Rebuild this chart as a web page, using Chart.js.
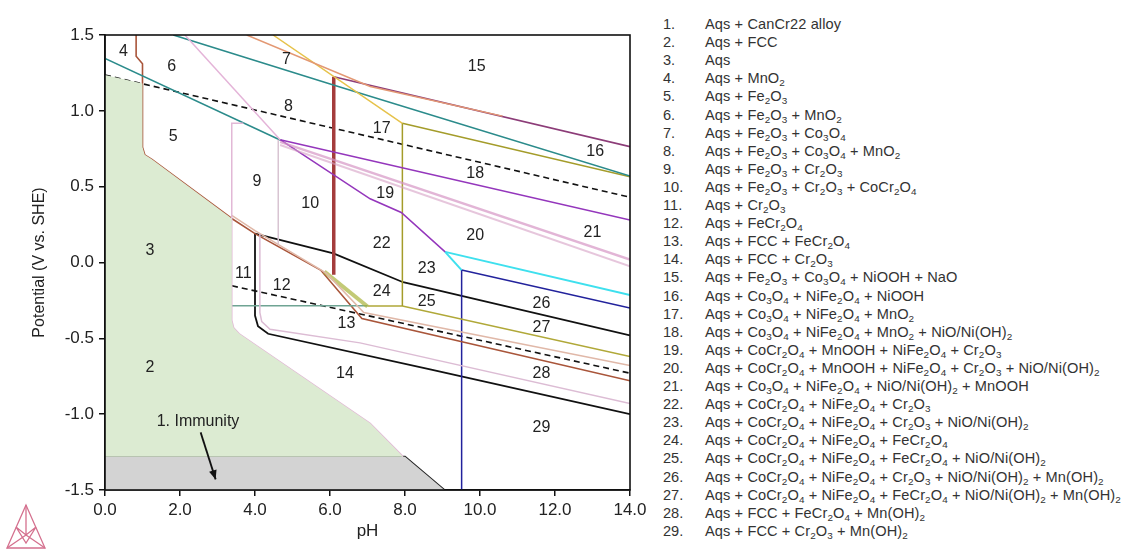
<!DOCTYPE html>
<html>
<head>
<meta charset="utf-8">
<script src="https://cdn.jsdelivr.net/npm/chart.js@4.4.1/dist/chart.umd.min.js"></script>
<style>
  body { margin: 0; background: #fff; width: 1128px; height: 549px; overflow: hidden; position: relative; font-family: "Liberation Sans", Arial, sans-serif; }
  #chart { position: absolute; left: 0; top: 0; }
  .row { position: absolute; height: 18px; line-height: 18px; font-size: 14.6px; color: #333; white-space: nowrap; }
  .row .n { position: absolute; left: 0; }
  .row .t { position: absolute; left: 42px; letter-spacing: 0.1px; }
  sub { font-size: 0.68em; line-height: 0; vertical-align: -0.3em; }
  #logo { position: absolute; left: 4px; top: 503px; }
</style>
</head>
<body>
<canvas id="chart" width="660" height="549"></canvas>
<div id="legend"></div>
<svg id="logo" width="46" height="46" viewBox="0 0 46 46">
  <g fill="none" stroke="#d4708e" stroke-width="1.3">
    <path d="M22 2 L3 45 L41 45 Z"/>
    <path d="M22 2 L22 32 M3 45 L22 32 L41 45 M12 24 L22 32 L32 24 M12 24 L22 40 L32 24"/>
  </g>
</svg>
<script>
// axis ticks
const xTicks = [0, 2, 4, 6, 8, 10, 12, 14];
const yTicks = [-1.5, -1.0, -0.5, 0.0, 0.5, 1.0, 1.5];

// shaded areas, [pH, E] corners
const aqsArea = [[0, 1.236], [1.0, 1.18], [1.0, 0.76], [1.06, 0.71], [1.25, 0.68], [3.38, 0.29], [3.38, -0.38], [3.43, -0.43], [3.58, -0.47], [7.07, -1.06], [7.95, -1.28], [0, -1.28]];
const immunityArea = [[0, -1.28], [8.0, -1.28], [9.05, -1.5], [0, -1.5]];

// phase boundaries
const immunityEdge = [[0, -1.28], [8.0, -1.28], [9.05, -1.5]];
const brownLine = [[0.83, 1.5], [0.83, 1.36], [1.0, 1.31], [1.0, 0.76], [1.06, 0.71], [1.25, 0.68], [3.38, 0.29], [4.0, 0.19], [5.75, -0.05], [6.85, -0.37], [14, -0.78]];
const paleBrownLine = [[3.38, 0.31], [4.0, 0.21], [5.9, -0.07], [6.9, -0.33], [14, -0.68]];
const oliveBand = [[5.85, -0.06], [7.0, -0.29]];
const tealUpper = [[1.82, 1.5], [6.09, 1.17], [14, 0.57]];
const tealLower = [[0, 1.346], [4.67, 0.808]];
const tealFlat = [[0, -0.285], [7.0, -0.285]];
const waterUpper = [[0, 1.236], [14, 0.43]];
const waterLower = [[0, 0.03], [14, -0.73]];
const salmonLine = [[3.78, 1.5], [7.07, 1.16], [10.6, 0.965]];
const yellowLine = [[4.48, 1.5], [7.93, 0.918]];
const plumLine = [[6.1, 1.225], [14, 0.764]];
const redWall = [[6.1, 1.225], [6.1, -0.08]];
const oliveBox = [[7.93, 0.918], [7.93, -0.287]];
const oliveTop = [[7.93, 0.918], [14, 0.566]];
const oliveBottom = [[7.0, -0.287], [7.93, -0.287], [14, -0.62]];
const purpleFlat = [[4.67, 0.81], [14, 0.28]];
const purpleSteep = [[4.67, 0.81], [7.07, 0.42], [7.9, 0.33], [9.07, 0.07]];
const pinkBandA = [[4.67, 0.795], [14, 0.02]];
const pinkBandB = [[4.67, 0.775], [14, -0.025]];
const pinkDiag = [[2.13, 1.5], [4.67, 0.81]];
const pinkWall = [[3.69, 0.918], [3.38, 0.918], [3.38, -0.38], [3.43, -0.43], [3.58, -0.47], [7.07, -1.06], [7.95, -1.28]];
const greyWall = [[4.62, 0.81], [4.62, 0.12]];
const paleCurve = [[4.13, 0.19], [4.13, -0.33], [4.18, -0.39], [4.4, -0.44], [6.8, -0.53], [14, -0.93]];
const blackUpper = [[4.0, 0.19], [6.09, 0.06], [7.95, -0.13], [14, -0.48]];
const blackLower = [[4.0, 0.19], [4.0, -0.35], [4.08, -0.42], [4.35, -0.47], [8.67, -0.705], [14, -1.0]];
const cyanShort = [[9.07, 0.07], [9.51, -0.05]];
const cyanLong = [[9.07, 0.07], [14, -0.214]];
const navyTop = [[9.51, -0.05], [14, -0.30]];
const navyWall = [[9.51, -0.05], [9.51, -1.5]];

// region numbers and where they sit
const regionNames = ['2', '3', '4', '5', '6', '7', '8', '9', '10', '11', '12', '13', '14', '15', '16', '17', '18', '19', '20', '21', '22', '23', '24', '25', '26', '27', '28', '29'];
const regionPH = [1.2, 1.2, 0.49, 1.82, 1.78, 4.84, 4.89, 4.05, 5.47, 3.69, 4.71, 6.44, 6.4, 9.91, 13.07, 7.38, 9.87, 7.47, 9.87, 13.0, 7.38, 8.58, 7.38, 8.58, 11.64, 11.64, 11.64, 11.64];
const regionE = [-0.69, 0.08, 1.39, 0.83, 1.29, 1.335, 1.027, 0.533, 0.39, -0.07, -0.155, -0.40, -0.73, 1.29, 0.73, 0.885, 0.588, 0.456, 0.18, 0.20, 0.127, -0.04, -0.19, -0.26, -0.27, -0.43, -0.73, -1.09];

// legend list (_n marks a subscript)
const phaseList = [
  'Aqs + CanCr22 alloy',
  'Aqs + FCC',
  'Aqs',
  'Aqs + MnO_2',
  'Aqs + Fe_2O_3',
  'Aqs + Fe_2O_3 + MnO_2',
  'Aqs + Fe_2O_3 + Co_3O_4',
  'Aqs + Fe_2O_3 + Co_3O_4 + MnO_2',
  'Aqs + Fe_2O_3 + Cr_2O_3',
  'Aqs + Fe_2O_3 + Cr_2O_3 + CoCr_2O_4',
  'Aqs + Cr_2O_3',
  'Aqs + FeCr_2O_4',
  'Aqs + FCC + FeCr_2O_4',
  'Aqs + FCC + Cr_2O_3',
  'Aqs + Fe_2O_3 + Co_3O_4 + NiOOH + NaO',
  'Aqs + Co_3O_4 + NiFe_2O_4 + NiOOH',
  'Aqs + Co_3O_4 + NiFe_2O_4 + MnO_2',
  'Aqs + Co_3O_4 + NiFe_2O_4 + MnO_2 + NiO/Ni(OH)_2',
  'Aqs + CoCr_2O_4 + MnOOH + NiFe_2O_4 + Cr_2O_3',
  'Aqs + CoCr_2O_4 + MnOOH + NiFe_2O_4 + Cr_2O_3 + NiO/Ni(OH)_2',
  'Aqs + Co_3O_4 + NiFe_2O_4 + NiO/Ni(OH)_2 + MnOOH',
  'Aqs + CoCr_2O_4 + NiFe_2O_4 + Cr_2O_3',
  'Aqs + CoCr_2O_4 + NiFe_2O_4 + Cr_2O_3 + NiO/Ni(OH)_2',
  'Aqs + CoCr_2O_4 + NiFe_2O_4 + FeCr_2O_4',
  'Aqs + CoCr_2O_4 + NiFe_2O_4 + FeCr_2O_4 + NiO/Ni(OH)_2',
  'Aqs + CoCr_2O_4 + NiFe_2O_4 + Cr_2O_3 + NiO/Ni(OH)_2 + Mn(OH)_2',
  'Aqs + CoCr_2O_4 + NiFe_2O_4 + FeCr_2O_4 + NiO/Ni(OH)_2 + Mn(OH)_2',
  'Aqs + FCC + FeCr_2O_4 + Mn(OH)_2',
  'Aqs + FCC + Cr_2O_3 + Mn(OH)_2'
];

// build the legend list
const legendBox = document.getElementById('legend');
phaseList.forEach((txt, i) => {
  const row = document.createElement('div');
  row.className = 'row';
  row.style.left = '663px';
  row.style.top = (15 + i * 18.1) + 'px';
  row.innerHTML = '<span class="n">' + (i + 1) + '.</span><span class="t">' + txt.replace(/_(\d)/g, '<sub>$1</sub>') + '</span>';
  legendBox.appendChild(row);
});

function toXY(pts) {
  return pts.map(p => ({ x: p[0], y: p[1] }));
}

function area(pts, color) {
  return { data: toXY(pts), showLine: true, borderWidth: 0, pointRadius: 0, backgroundColor: color, fill: 'shape', tension: 0 };
}

function line(pts, color, width, dash) {
  return { data: toXY(pts), showLine: true, borderColor: color, borderWidth: width || 1.5, borderDash: dash || [], pointRadius: 0, fill: false, tension: 0 };
}

const datasets = [
  area(aqsArea, '#dcebd2'),
  area(immunityArea, '#d3d3d3'),
  line(pinkBandA, 'rgba(214,150,196,0.7)', 2.5),
  line(pinkBandB, 'rgba(214,160,196,0.6)', 2),
  line(pinkDiag, '#e4b4d8', 1.5),
  line(pinkWall, '#e2b8d6', 1.5),
  line(greyWall, '#d8c4d2', 1.5),
  line(paleCurve, '#dcbcd4', 1.5),
  line(paleBrownLine, '#e0b8a8', 1.5),
  line(oliveBand, 'rgba(170,180,60,0.7)', 4),
  line(tealFlat, '#6fa493', 1.5),
  line(salmonLine, '#e39873', 1.5),
  line(yellowLine, '#e6c24a', 1.5),
  line(tealUpper, '#2b8b8b', 1.6),
  line(tealLower, '#2b8b8b', 1.6),
  line(plumLine, '#8c3c78', 1.6),
  line(purpleFlat, '#9436bc', 1.5),
  line(purpleSteep, '#9436bc', 1.5),
  line(oliveBox, '#a49c2a', 1.5),
  line(oliveTop, '#a49c2a', 1.5),
  line(oliveBottom, '#b0a838', 1.5),
  line(brownLine, '#a9553a', 1.6),
  line(redWall, '#a43c3c', 3.5),
  line(cyanLong, '#3ee0ee', 2),
  line(cyanShort, '#3ee0ee', 2),
  line(navyTop, '#22229c', 1.5),
  line(navyWall, '#22229c', 1.5),
  line(blackUpper, '#111', 1.8),
  line(blackLower, '#111', 1.8),
  line(waterUpper, '#111', 1.6, [6, 4]),
  line(waterLower, '#111', 1.6, [6, 4]),
  line(immunityEdge, '#222', 1.8)
];

// frame around the plot area
const framePlugin = {
  id: 'frame',
  afterDatasetsDraw(chart) {
    const a = chart.chartArea;
    const ctx = chart.ctx;
    ctx.save();
    ctx.strokeStyle = '#111';
    ctx.lineWidth = 1.6;
    ctx.strokeRect(a.left, a.top, a.right - a.left, a.bottom - a.top);
    ctx.restore();
  }
};

// region numbers, immunity note
const labelPlugin = {
  id: 'regionLabels',
  afterDatasetsDraw(chart) {
    const ctx = chart.ctx;
    const xs = chart.scales.x;
    const ys = chart.scales.y;
    ctx.save();
    ctx.fillStyle = '#222';
    ctx.font = '16px "Liberation Sans", Arial, sans-serif';
    ctx.textAlign = 'center';
    ctx.textBaseline = 'middle';
    regionNames.forEach((name, i) => {
      ctx.fillText(name, xs.getPixelForValue(regionPH[i]), ys.getPixelForValue(regionE[i]));
    });
    ctx.fillText('1. Immunity', xs.getPixelForValue(2.48), ys.getPixelForValue(-1.05));

    // arrow
    const x1 = xs.getPixelForValue(2.55), y1 = ys.getPixelForValue(-1.12);
    const x2 = xs.getPixelForValue(2.95), y2 = ys.getPixelForValue(-1.43);
    ctx.strokeStyle = '#111';
    ctx.lineWidth = 1.8;
    ctx.beginPath();
    ctx.moveTo(x1, y1);
    ctx.lineTo(x2, y2);
    ctx.stroke();
    const ang = Math.atan2(y2 - y1, x2 - x1);
    ctx.beginPath();
    ctx.moveTo(x2, y2);
    ctx.lineTo(x2 - 10 * Math.cos(ang - 0.4), y2 - 10 * Math.sin(ang - 0.4));
    ctx.lineTo(x2 - 10 * Math.cos(ang + 0.4), y2 - 10 * Math.sin(ang + 0.4));
    ctx.closePath();
    ctx.fillStyle = '#111';
    ctx.fill();
    ctx.restore();
  }
};

const axisFont = { family: '"Liberation Sans", Arial, sans-serif', size: 17 };

new Chart(document.getElementById('chart').getContext('2d'), {
  type: 'scatter',
  data: { datasets: datasets },
  options: {
    responsive: false,
    animation: false,
    layout: { padding: { top: 35, right: 30, left: 0, bottom: 0 } },
    plugins: { legend: { display: false }, tooltip: { enabled: false } },
    scales: {
      x: {
        type: 'linear', min: 0, max: 14,
        afterFit(s) { s.height = 59; },
        afterBuildTicks(s) { s.ticks = xTicks.map(v => ({ value: v })); },
        ticks: { callback: v => v.toFixed(1), font: axisFont, color: '#222', padding: 4, maxRotation: 0, autoSkip: false },
        grid: { drawOnChartArea: false, tickLength: 6, color: '#111', lineWidth: 1.5 },
        border: { color: '#111', width: 1.6 },
        title: { display: true, text: 'pH', font: axisFont, color: '#222', padding: { top: 0, bottom: 7 } }
      },
      y: {
        type: 'linear', min: -1.5, max: 1.5,
        afterFit(s) { s.width = 105; },
        afterBuildTicks(s) { s.ticks = yTicks.map(v => ({ value: v })); },
        ticks: { callback: v => v.toFixed(1), font: axisFont, color: '#222', padding: 5, autoSkip: false },
        grid: { drawOnChartArea: false, tickLength: 6, color: '#111', lineWidth: 1.5 },
        border: { color: '#111', width: 1.6 },
        title: { display: true, text: 'Potential (V vs. SHE)', font: { family: axisFont.family, size: 16 }, color: '#222', padding: { top: 30, bottom: 0 } }
      }
    }
  },
  plugins: [framePlugin, labelPlugin]
});
</script>
</body>
</html>
